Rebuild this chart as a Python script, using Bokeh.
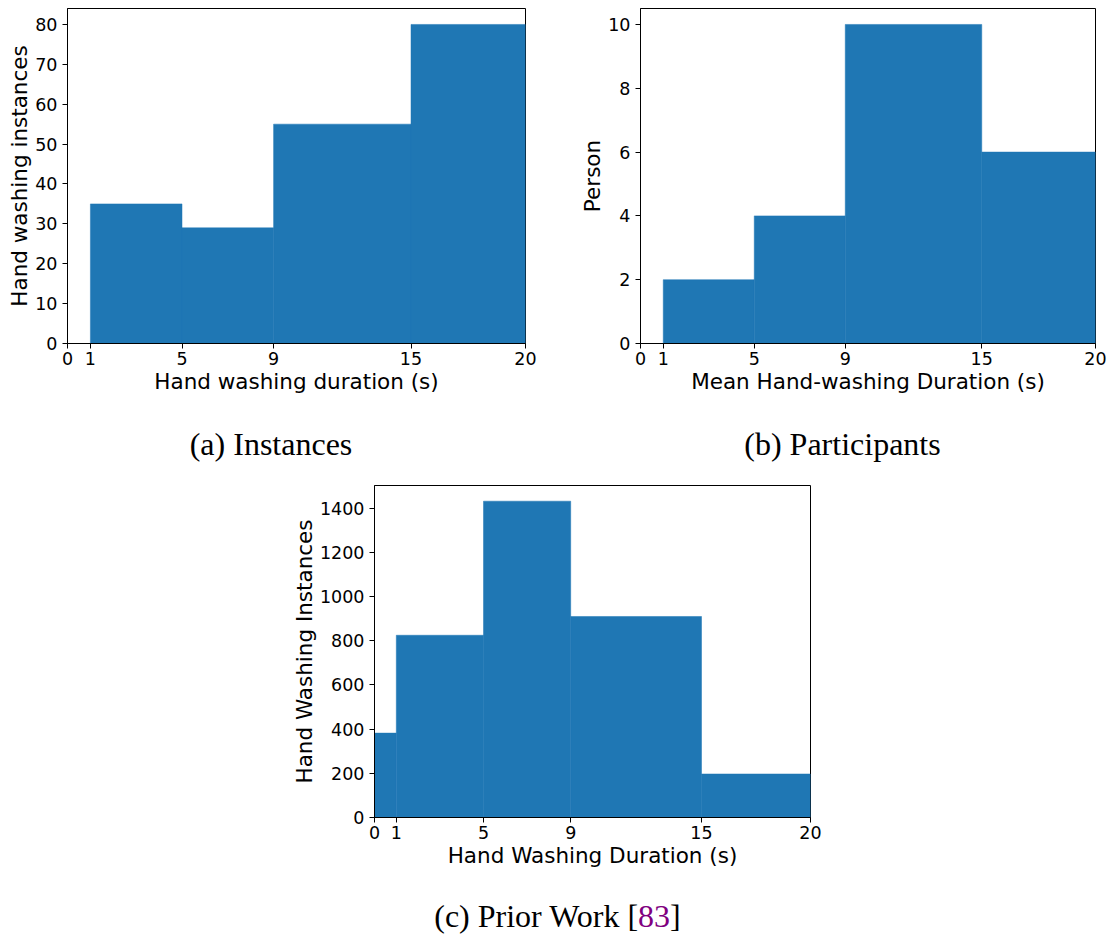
from bokeh.plotting import figure
from bokeh.models import Range1d, FixedTicker, Div, Spacer
from bokeh.layouts import column, row
from bokeh.embed import file_html
from bokeh.resources import INLINE

# ---------------- data ----------------
edges_ab = [1, 5, 9, 15, 20]
counts_a = [35, 29, 55, 80]
counts_b = [2, 4, 10, 6]
edges_c = [0, 1, 5, 9, 15, 20]
counts_c = [382, 825, 1432, 910, 197]

x_ticks = [0, 1, 5, 9, 15, 20]
y_ticks_a = [0, 10, 20, 30, 40, 50, 60, 70, 80]
y_ticks_b = [0, 2, 4, 6, 8, 10]
y_ticks_c = [0, 200, 400, 600, 800, 1000, 1200, 1400]

xlabel_a = "Hand washing duration (s)"
ylabel_a = "Hand washing instances"
xlabel_b = "Mean Hand-washing Duration (s)"
ylabel_b = "Person"
xlabel_c = "Hand Washing Duration (s)"
ylabel_c = "Hand Washing Instances"

BLUE = "#1f77b4"
SANS = "DejaVu Sans"
SERIF = "Liberation Serif"


def make_hist(edges, counts, xlabel, ylabel, yticks, ymax,
              fw, fh, bl, br, bt, bb):
    p = figure(frame_width=fw, frame_height=fh,
               x_range=Range1d(0, 20), y_range=Range1d(0, ymax),
               output_backend="svg", toolbar_location=None,
               min_border_left=bl, min_border_right=br,
               min_border_top=bt, min_border_bottom=bb, margin=0)
    p.quad(left=edges[:-1], right=edges[1:], bottom=0, top=counts,
           fill_color=BLUE, line_color=BLUE, line_width=0.5)
    p.xgrid.visible = False
    p.ygrid.visible = False
    p.outline_line_color = "black"
    p.outline_line_width = 1
    p.background_fill_color = "white"
    p.border_fill_color = "white"
    p.xaxis.ticker = FixedTicker(ticks=x_ticks)
    p.yaxis.ticker = FixedTicker(ticks=yticks)
    p.xaxis.axis_label = xlabel
    p.yaxis.axis_label = ylabel
    for ax in (p.xaxis[0], p.yaxis[0]):
        ax.axis_line_color = "black"
        ax.axis_line_width = 1
        ax.major_tick_line_color = "black"
        ax.major_tick_out = 5
        ax.major_tick_in = 0
        ax.minor_tick_line_color = None
        ax.major_label_text_font = SANS
        ax.major_label_text_font_size = "17.5px"
        ax.major_label_text_color = "black"
        ax.axis_label_text_font = SANS
        ax.axis_label_text_font_size = "21.5px"
        ax.axis_label_text_font_style = "normal"
        ax.axis_label_text_color = "black"
    p.xaxis.major_label_standoff = 3
    p.xaxis.axis_label_standoff = 1
    p.yaxis.major_label_standoff = 5
    p.yaxis.axis_label_standoff = 0
    return p


fa = make_hist(edges_ab, counts_a, xlabel_a, ylabel_a, y_ticks_a, 84,
               458, 335, 55, 35, 8, 56)
fb = make_hist(edges_ab, counts_b, xlabel_b, ylabel_b, y_ticks_b, 10.5,
               455, 335, 80, 12, 8, 56)
fc = make_hist(edges_c, counts_c, xlabel_c, ylabel_c, y_ticks_c, 1503,
               436, 332, 100, 14, 16, 57)


def caption(html, width, height, pad_top, shift):
    pl = max(shift, 0) * 2
    pr = max(-shift, 0) * 2
    inner = (f'<div style="display:block; box-sizing:border-box; width:{width}px; '
             f'font-family:\'{SERIF}\'; font-size:32px; line-height:32px; '
             f'padding-top:{pad_top}px; padding-left:{pl}px; padding-right:{pr}px; '
             f'text-align:center; color:black; white-space:nowrap;">{html}</div>')
    return Div(text=inner, width=width, height=height, margin=0,
               styles={"overflow": "hidden"})


cap_a = caption("(a) Instances", 552, 70, 29, -5)
cap_b = caption("(b) Participants", 547, 70, 29, 17)
cap_c = caption('(c) Prior Work [<span style="color:#800080">83</span>]',
                1093, 60, 26, 11)

layout = column(
    row(Spacer(width=4, height=10, margin=0), fa, fb, spacing=0, margin=0),
    row(cap_a, cap_b, spacing=0, margin=0),
    row(Spacer(width=274, height=10, margin=0), fc, spacing=0, margin=0),
    cap_c,
    spacing=0, margin=0,
)

open("out.html", "w").write(file_html(layout, INLINE))
